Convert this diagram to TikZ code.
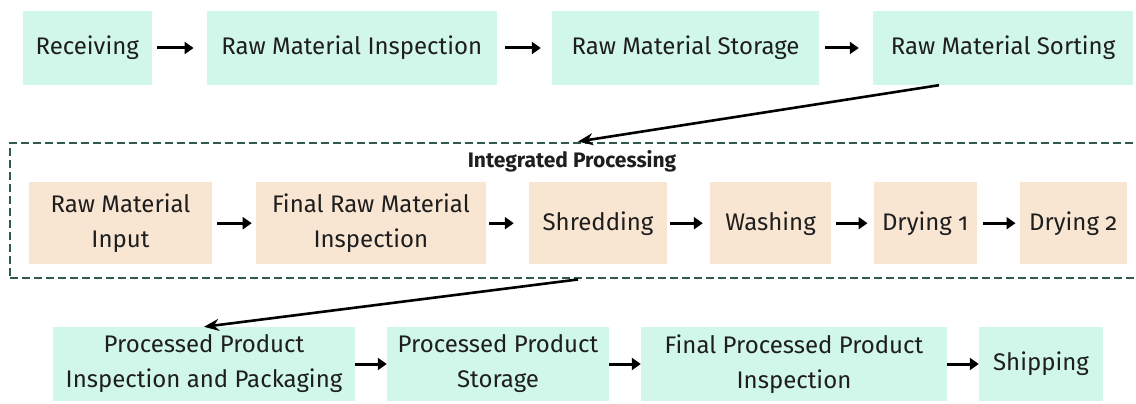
\documentclass[tikz,border=0pt]{standalone}
\usepackage{fontspec}
\setmainfont{Fira Sans}[Numbers=OldStyle]
\usetikzlibrary{arrows.meta}
\definecolor{mint}{RGB}{209,247,234}
\definecolor{sand}{RGB}{248,230,210}
\definecolor{frame}{RGB}{47,90,70}
\definecolor{ink}{RGB}{30,30,30}
\begin{document}
\begin{tikzpicture}[x=1pt,y=-1pt,
  box/.style={inner sep=0pt, align=center, text=ink, font=\fontsize{24}{35}\selectfont},
  greenbox/.style={box, fill=mint},
  tanbox/.style={box, fill=sand},
  flow/.style={line width=3pt, -{Triangle[length=9pt,width=12pt]}},
  link/.style={line width=2.6pt, -{Stealth[length=15pt,width=12pt]}},
  group/.style={draw=frame, line width=2.6pt, dash pattern=on 8pt off 4pt, inner sep=0pt},
]
\useasboundingbox (0,0) rectangle (1136,404);
\clip (0,0) rectangle (1136,404);

% intake row
\node[greenbox, minimum width=129pt, minimum height=74pt] (recv) at (87.2,48) {Receiving};
\node[greenbox, minimum width=290pt, minimum height=74pt] (rmi) at (351.8,48) {Raw Material Inspection};
\node[greenbox, minimum width=267pt, minimum height=74pt] (rms) at (685.5,48) {Raw Material Storage};
\node[greenbox, minimum width=260pt, minimum height=74pt] (rmsort) at (1003,48) {Raw Material Sorting};

\draw[flow] ([xshift=5pt]recv.east) -- ([xshift=-13pt]rmi.west);
\draw[flow] ([xshift=8pt]rmi.east) -- ([xshift=-11pt]rms.west);
\draw[flow] ([xshift=6pt]rms.east) -- ([xshift=-14pt]rmsort.west);

% integrated processing group
\node[group, minimum width=1136pt, minimum height=135.3pt] (grp) at (578,210.5) {};
\node[text=ink, font=\fontsize{21}{24}\selectfont\bfseries] (grptitle) at (572,161) {Integrated Processing};

\node[tanbox, minimum width=183pt, minimum height=82pt] (rminput) at (120.5,223.2) {Raw Material\\Input};
\node[tanbox, minimum width=230pt, minimum height=82pt] (frmi) at (370.9,223.2) {Final Raw Material\\Inspection};
\node[tanbox, minimum width=138pt, minimum height=82pt] (shred) at (598,223.2) {Shredding};
\node[tanbox, minimum width=121pt, minimum height=82pt] (wash) at (770.5,223.2) {Washing};
\node[tanbox, minimum width=103pt, minimum height=82pt] (dry1) at (925.2,223.2) {Drying 1};
\node[tanbox, minimum width=107pt, minimum height=82pt] (dry2) at (1073.2,223.2) {Drying 2};

\draw[flow] ([xshift=5pt]rminput.east) -- ([xshift=-4pt]frmi.west);
\draw[flow] ([xshift=3pt]frmi.east) -- ([xshift=-15pt]shred.west);
\draw[flow] ([xshift=3pt]shred.east) -- ([xshift=-7pt]wash.west);
\draw[flow] ([xshift=5pt]wash.east) -- ([xshift=-6pt]dry1.west);
\draw[flow] ([xshift=6pt]dry1.east) -- ([xshift=-4pt]dry2.west);

% output row
\node[greenbox, minimum width=302pt, minimum height=74pt] (ppip) at (204,364) {Processed Product\\Inspection and Packaging};
\node[greenbox, minimum width=222pt, minimum height=74pt] (pps) at (498,364) {Processed Product\\Storage};
\node[greenbox, minimum width=306pt, minimum height=74pt] (fppi) at (794,364) {Final Processed Product\\Inspection};
\node[greenbox, minimum width=124pt, minimum height=74pt] (ship) at (1041,364) {Shipping};

\draw[flow] (ppip.east) -- (pps.west);
\draw[flow] (pps.east) -- (fppi.west);
\draw[flow] (fppi.east) -- (ship.west);

% links between stages
\draw[link] ([xshift=-64pt]rmsort.south) -- (grp.north);
\draw[link] (grp.south) -- (ppip.north);
\end{tikzpicture}
\end{document}
